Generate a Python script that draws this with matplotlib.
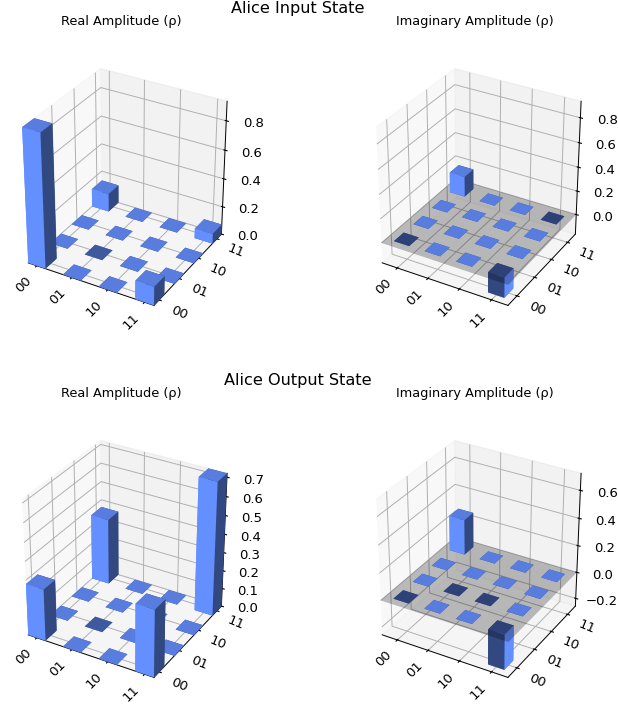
import numpy as np
import matplotlib
matplotlib.use("Agg")
import matplotlib.pyplot as plt
from matplotlib.ticker import MultipleLocator
from mpl_toolkits.mplot3d.art3d import Poly3DCollection

W, H = 618, 704
labels = ["00", "01", "10", "11"]
bar_color = np.array(matplotlib.colors.to_rgb("#648fff"))
eps = 1e-4

input_real = [[0.93, eps, eps, 0.13],
              [eps, -eps, eps, eps],
              [eps, eps, eps, eps],
              [0.13, eps, eps, 0.07]]
input_imag = [[-eps, eps, eps, -0.17],
              [eps, eps, eps, eps],
              [eps, eps, eps, eps],
              [0.17, eps, eps, -eps]]
output_real = [[0.28, eps, eps, 0.36],
               [eps, -eps, eps, eps],
               [eps, eps, eps, eps],
               [0.36, eps, eps, 0.72]]
output_imag = [[-eps, eps, eps, -0.26],
               [eps, -eps, -eps, eps],
               [eps, eps, eps, eps],
               [0.26, eps, eps, eps]]

panels = [
    (input_real, input_imag, "Alice Input State", 8, 0, 0.2, 0.2),
    (output_real, output_imag, "Alice Output State", 380, 372, 0.1, 0.2),
]

fig = plt.figure(figsize=(W / 100, H / 100), dpi=100, facecolor="w")

SHADE_POS = [0.625, 0.875, 1.0, 0.5, 1.0, 0.5]
SHADE_NEG = [0.625, 0.875, 0.5, 1.0, 0.5, 1.0]


def draw(ax, data, other_max, plane, step):
    data = np.array(data, dtype=float)
    n = data.shape[0]
    lim = (0, n) if plane else (0.25, n - 0.25)
    for j in range(n - 1, -1, -1):
        for i in range(n):
            v = data[j][i]
            shades = SHADE_POS if v >= 0 else SHADE_NEG
            ax.bar3d(i + 0.25, j + 0.25, 0, 0.5, 0.5, v,
                     color=[tuple(bar_color * s) for s in shades], shade=False,
                     zorder=2 if v >= 0 else 0)
    ax.set_xlim3d(*lim)
    ax.set_ylim3d(*lim)
    xl, yl = ax.get_xlim(), ax.get_ylim()
    if plane:
        verts = [[(xl[0], yl[0], 0), (xl[1], yl[0], 0), (xl[1], yl[1], 0), (xl[0], yl[1], 0)]]
        ax.add_collection3d(Poly3DCollection(verts, alpha=0.25, facecolor="k",
                                             linewidths=1, zorder=1))
    ax.set_box_aspect((4, 4, 4.3))
    ax.view_init(elev=31, azim=-60)
    ax.set_xticks(np.arange(0.5, n + 0.5, 1))
    ax.set_yticks(np.arange(0.5, n + 0.5, 1))
    ax.set_xlim3d(*lim)
    ax.set_ylim3d(*lim)
    ax.set_zlim3d(data.min(), max(data.max() + 1e-9, other_max))
    ax.zaxis.set_major_locator(MultipleLocator(step))
    ax.xaxis.set_ticklabels(labels, fontsize=9.5, rotation=45, ha="right", va="top")
    ax.yaxis.set_ticklabels(labels, fontsize=9.5, rotation=-22.5, ha="left", va="center")
    ax.tick_params(axis="z", labelsize=9.5, pad=5)
    ax.tick_params(axis="x", pad=-4)
    ax.tick_params(axis="y", pad=-1)
    for axis in (ax.xaxis, ax.yaxis, ax.zaxis):
        axis._axinfo["grid"]["linewidth"] = 0.7
        axis.line.set_linewidth(0.7)


SIZE = 251
for real, imag, title, ty, dy, step_re, step_im in panels:
    fig.text(298 / W, 1 - ty / H, title, fontsize=11.6, ha="center", va="center")
    for k, (data, other, name, cx, tx, step) in enumerate([
        (real, imag, "Real Amplitude (ρ)", 123, 121, step_re),
        (imag, real, "Imaginary Amplitude (ρ)", 477, 475, step_im),
    ]):
        top = 61 + dy
        ax = fig.add_axes([(cx - SIZE / 2) / W, 1 - (top + SIZE) / H, SIZE / W, SIZE / H],
                          projection="3d", computed_zorder=False)
        draw(ax, data, np.max(other), k == 1, step)
        fig.text(tx / W, 1 - (22 + dy) / H, name, fontsize=9.3, ha="center", va="center")

fig.savefig("out.png", dpi=100)
